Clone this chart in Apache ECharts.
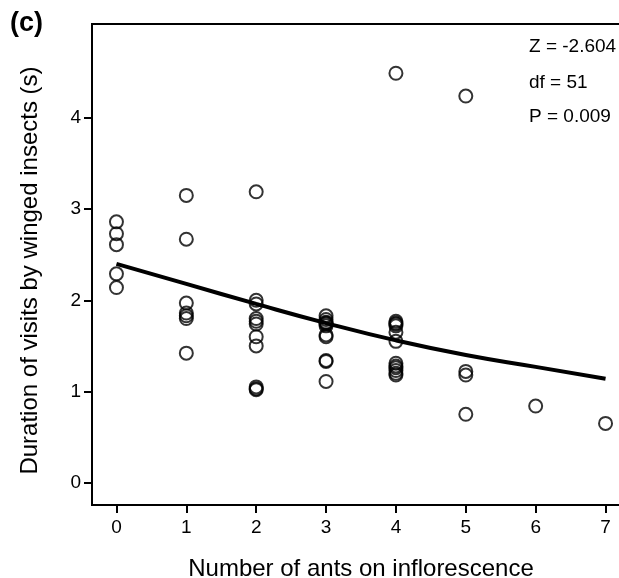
<!DOCTYPE html>
<html>
<head>
<meta charset="utf-8">
<script src="https://cdn.jsdelivr.net/npm/echarts@6/dist/echarts.min.js"></script>
<style>html,body{margin:0;padding:0;background:#fff;overflow:hidden}#c{width:619px;height:578px}</style>
</head>
<body>
<div id="c"></div>
<script>
// Observed points: ants on inflorescence (x) and visit duration (y)
var antsX = [
  0,0,0,0,0,
  1,1,1,1,1,1,1,
  2,2,2,2,2,2,2,2,2,2,2,
  3,3,3,3,3,3,3,3,3,3,3,
  4,4,4,4,4,4,4,4,4,4,4,4,4,
  5,5,5,5,
  6,
  7
];
var durationY = [
  2.86,2.73,2.61,2.29,2.14,
  3.15,2.67,1.97,1.86,1.83,1.80,1.42,
  3.19,2.00,1.96,1.80,1.77,1.74,1.60,1.50,1.05,1.03,1.02,
  1.83,1.79,1.76,1.74,1.72,1.62,1.60,1.34,1.33,1.11,1.75,
  4.49,1.77,1.75,1.72,1.65,1.55,1.31,1.28,1.26,1.23,1.20,1.18,1.74,
  4.24,1.22,1.18,0.75,
  0.84,
  0.65
];
// Fitted curve read at integer ant counts
var fitX = [0,1,2,3,4,5,6,7];
var fitY = [2.40,2.18,1.96,1.75,1.56,1.40,1.27,1.14];
var xTicks = [0,1,2,3,4,5,6,7];
var yTicks = [0,1,2,3,4];
var statsText = ['Z = -2.604','df = 51','P = 0.009'];

var pts = antsX.map(function(x,i){return [x,durationY[i]];});
var fit = fitX.map(function(x,i){return [x,fitY[i]];});
var FONT = '"Liberation Sans", Arial, sans-serif';

var chart = echarts.init(document.getElementById('c'));
chart.setOption({
  animation:false,
  grid:{left:92,top:24,width:538,bottom:73,show:true,borderColor:'#000',borderWidth:2,
        containLabel:false,outerBoundsMode:'none'},
  xAxis:{
    type:'value',min:-0.35,max:7.35,
    name:'Number of ants on inflorescence',nameLocation:'middle',nameGap:52,
    nameTextStyle:{fontFamily:FONT,fontSize:24,color:'#000'},
    axisLine:{show:true,onZero:false,lineStyle:{color:'#000',width:2}},
    axisTick:{show:true,length:8,lineStyle:{color:'#000',width:2},customValues:xTicks},
    axisLabel:{fontFamily:FONT,fontSize:19,color:'#000',margin:13,customValues:xTicks},
    splitLine:{show:false}
  },
  yAxis:{
    type:'value',min:-0.245,max:5.03,
    name:'Duration of visits by winged insects (s)',nameLocation:'middle',nameGap:50,nameRotate:90,
    nameTextStyle:{fontFamily:FONT,fontSize:24,color:'#000',padding:[0,12,0,0]},
    axisLine:{show:true,onZero:false,lineStyle:{color:'#000',width:2}},
    axisTick:{show:true,length:8,lineStyle:{color:'#000',width:2},customValues:yTicks},
    axisLabel:{fontFamily:FONT,fontSize:19,color:'#000',margin:11,customValues:yTicks},
    splitLine:{show:false}
  },
  graphic:[
    {type:'text',left:10,top:10,style:{text:'(c)',fontFamily:FONT,fontSize:27,fontWeight:'bold',fill:'#000'}},
    {type:'text',left:529,top:37,style:{text:statsText[0],fontFamily:FONT,fontSize:19,fill:'#000'}},
    {type:'text',left:529,top:73,style:{text:statsText[1],fontFamily:FONT,fontSize:19,fill:'#000'}},
    {type:'text',left:529,top:107,style:{text:statsText[2],fontFamily:FONT,fontSize:19,fill:'#000'}}
  ],
  series:[
    {type:'scatter',data:pts,symbol:'circle',symbolSize:13,
     itemStyle:{color:'rgba(255,255,255,0)',borderColor:'#000',borderWidth:2},z:3},
    {type:'line',data:fit,smooth:true,symbol:'none',
     lineStyle:{color:'#000',width:4},z:4}
  ]
});
</script>
</body>
</html>
